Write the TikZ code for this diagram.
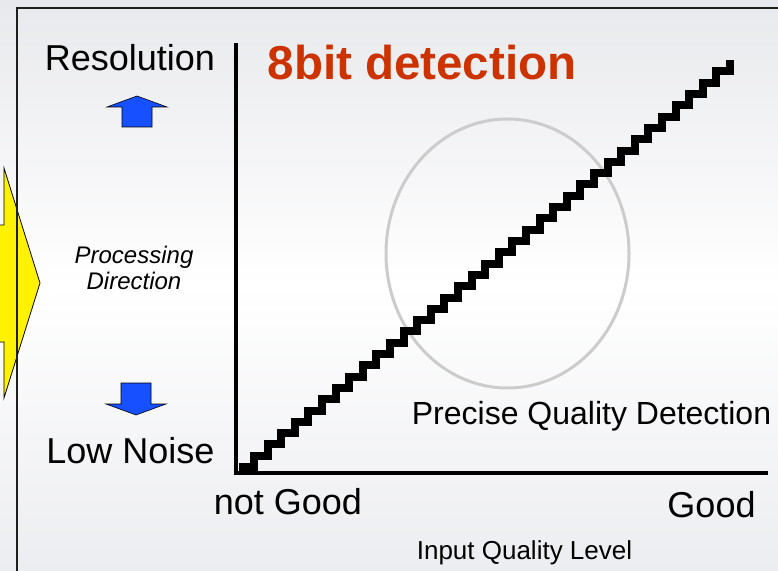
\documentclass[tikz,border=0pt]{standalone}
\usepackage{fontspec}
\setmainfont{Liberation Sans}
\definecolor{bgtop}{RGB}{232,233,236}
\definecolor{bgbot}{RGB}{236,237,240}
\definecolor{titlered}{RGB}{204,51,0}
\definecolor{arrowblue}{RGB}{22,80,255}
\definecolor{ringgray}{RGB}{204,204,204}
\definecolor{framegray}{RGB}{30,30,30}
\begin{document}
\begin{tikzpicture}[x=1bp,y=-1bp,
  lbl/.style={inner sep=0pt, anchor=base, font=\fontsize{36bp}{40bp}\selectfont},
  midlbl/.style={inner sep=0pt, anchor=base, font=\fontsize{32bp}{36bp}\selectfont},
  smalllbl/.style={inner sep=0pt, anchor=base, font=\fontsize{26bp}{30bp}\selectfont},
  dirlbl/.style={inner sep=0pt, align=center, font=\fontsize{24bp}{26bp}\selectfont\itshape},
  titlelbl/.style={inner sep=0pt, anchor=base, text=titlered, font=\fontsize{47.5bp}{50bp}\selectfont\bfseries},
  axisline/.style={line width=3.5bp, black},
  stairline/.style={line width=8bp, black, miter limit=4},
  bluearrow/.style={fill=arrowblue, draw=black, line width=0.6bp},
  yellowarrow/.style={fill=yellow, draw=black, line width=0.8bp},
  ring/.style={draw=ringgray, line width=3bp},
  frameline/.style={draw=framegray, line width=2bp}
]
\useasboundingbox (0,0) rectangle (778,571);
\clip (0,0) rectangle (778,571);
\shade[top color=bgtop, bottom color=bgbot, middle color=white] (0,0) rectangle (778,571);

% yellow processing arrow (partly outside)
\draw[yellowarrow] (-20,225) -- (4,225) -- (4,168) -- (40,283) -- (4,398) -- (4,342) -- (-20,342) -- cycle;

% frame
\draw[frameline] (17,600) -- (17,8) -- (800,8);

% left labels
\node[lbl] (res) at (130,71) {Resolution};
\node[lbl] (low) at (130.5,463) {Low Noise};
\node[dirlbl] (dir) at (134,268) {Processing\\Direction};

% blue arrows
\draw[bluearrow] (137,96) -- (167,107) -- (152,107) -- (152,127) -- (122,127) -- (122,107) -- (107,107) -- cycle;
\draw[bluearrow] (136,415) -- (166,404) -- (151,404) -- (151,383) -- (121,383) -- (121,404) -- (106,404) -- cycle;

% ellipse
\draw[ring] (507.5,253.5) ellipse [x radius=121.5, y radius=134.5];

% axes
\coordinate (ytop) at (236,43);
\coordinate (origin) at (236,473);
\coordinate (xend) at (768,473);
\draw[axisline] (ytop) -- (origin) -- (xend);

% staircase
\coordinate (s0) at (239,467);
\draw[stairline] (s0) -- ++(15,0)
  \foreach \i in {1,...,35} { -- ++(0,-11.3) -- ++(13.6,0) } -- ++(0,-11.3);

% title and other labels
\node[titlelbl] (title) at (422,80) {8bit detection};
\node[midlbl] (pqd) at (591.5,424) {Precise Quality Detection};
\node[lbl] (ng) at (288,514) {not Good};
\node[lbl] (good) at (711.5,517) {Good};
\node[smalllbl] (iql) at (524.5,559) {Input Quality Level};
\end{tikzpicture}
\end{document}
